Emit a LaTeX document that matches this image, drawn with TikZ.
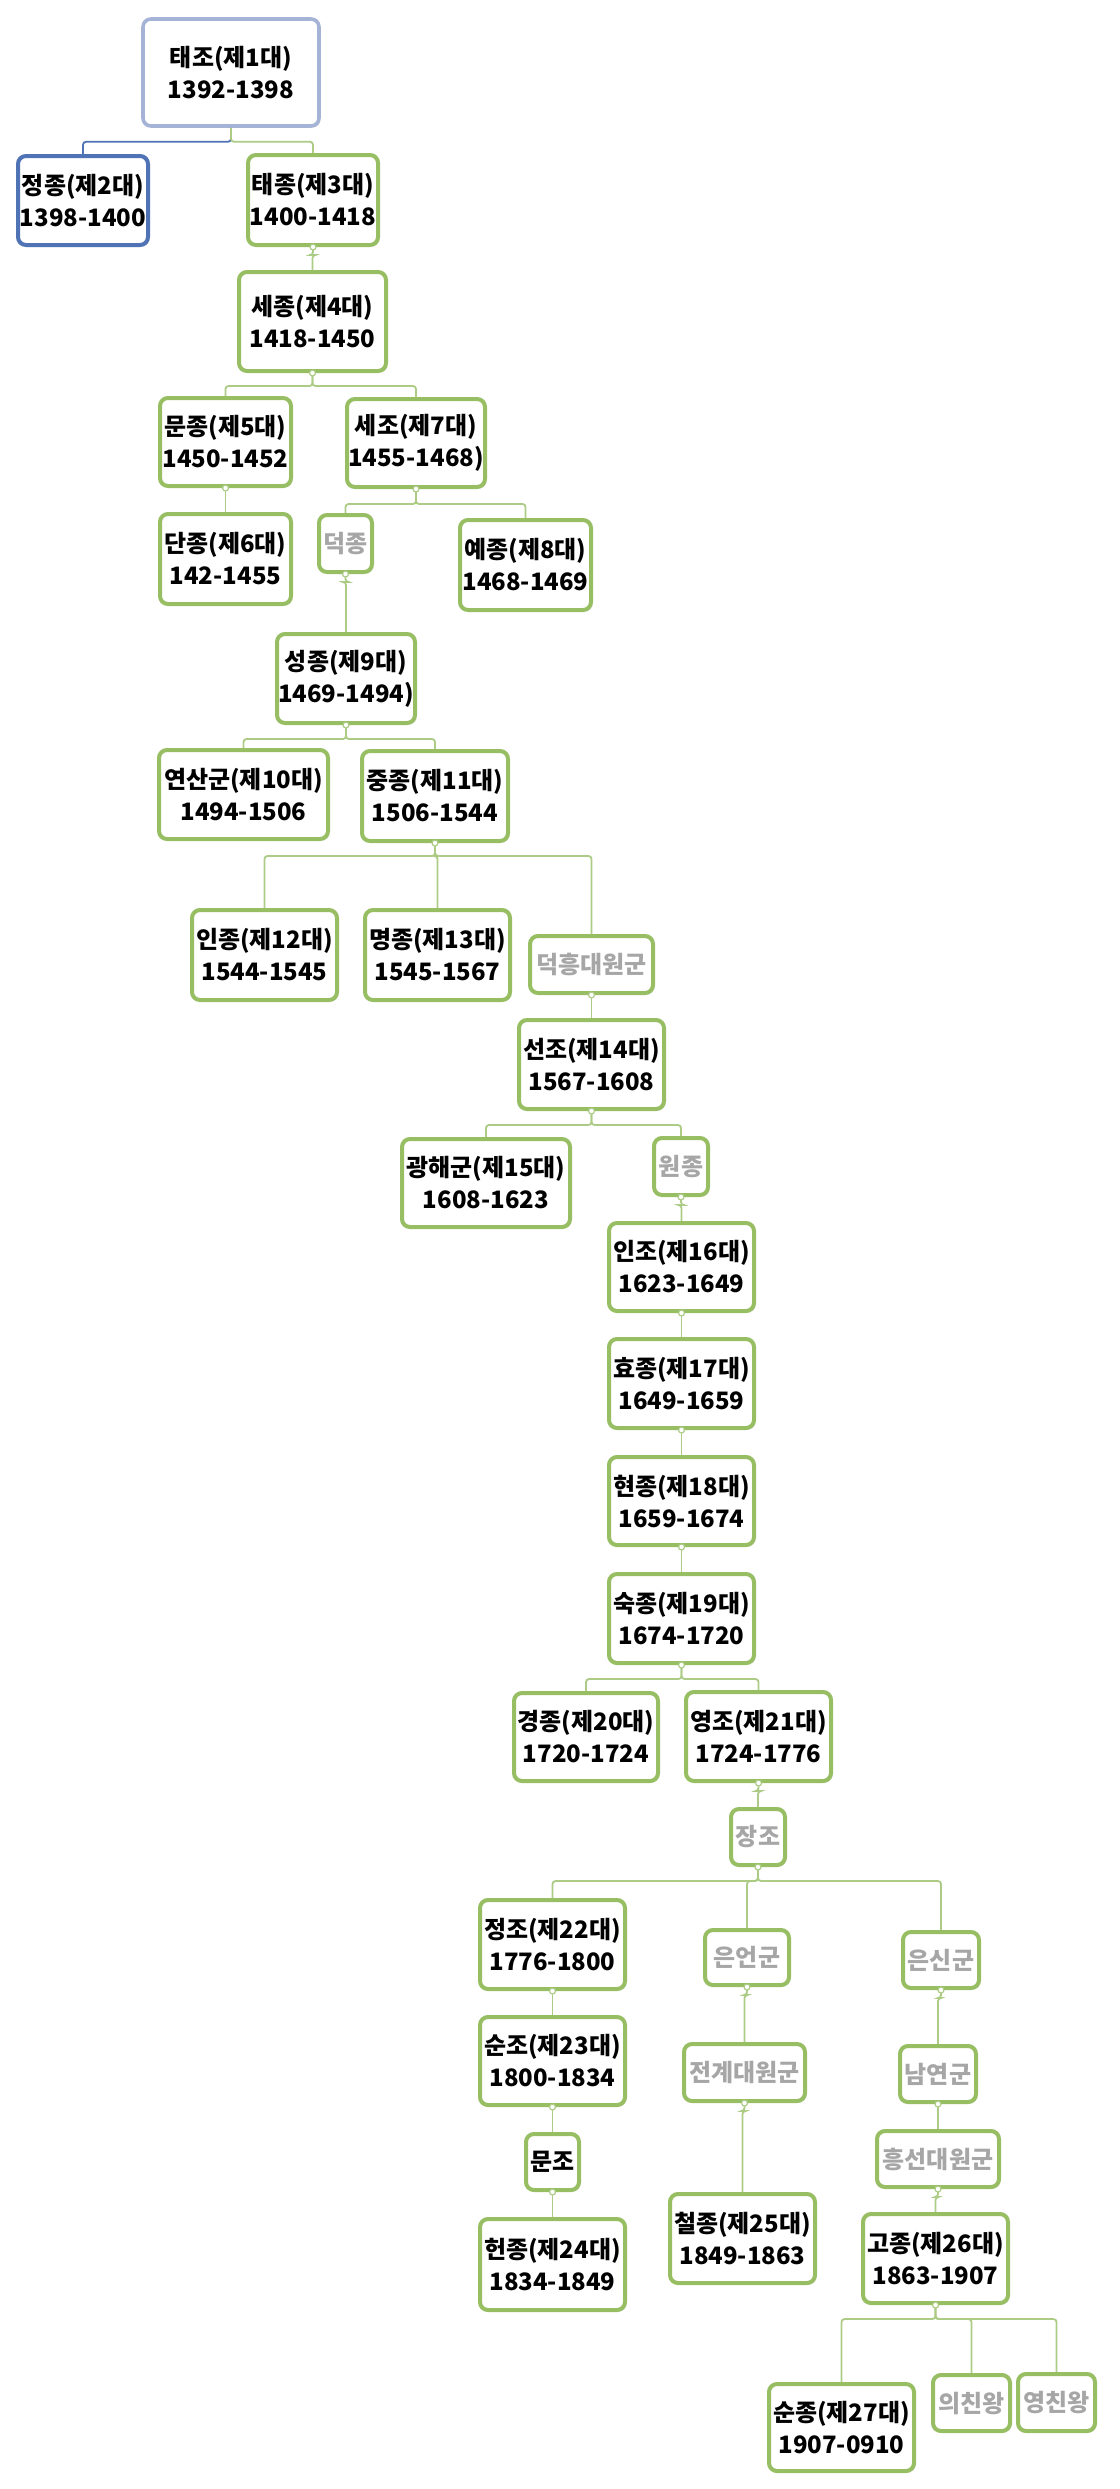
\documentclass[tikz,border=0pt]{standalone}
\usepackage{fontspec}
\newfontfamily\kr{Noto Sans CJK KR}
\usetikzlibrary{shadows}
\definecolor{gbord}{RGB}{152,190,100}
\definecolor{gline}{RGB}{172,204,134}
\definecolor{tbord}{RGB}{165,180,214}
\definecolor{bbord}{RGB}{79,115,181}
\definecolor{gtxt}{RGB}{166,166,166}
\tikzset{
 kbox/.style={draw=gbord, line width=2pt, rounded corners=4pt, fill=white, inner sep=0pt, align=center,
   font=\kr\bfseries\fontsize{12pt}{16pt}\selectfont,
   drop shadow={opacity=0.22, shadow xshift=0.8pt, shadow yshift=-0.8pt}},
 sz/.style 2 args={minimum width={(#1-4)*0.5pt}, minimum height={(#2-4)*0.5pt}},
 faded/.style={text=gtxt},
 conn/.style={draw=gline, line width=0.9pt, rounded corners=1.5pt},
 jdot/.style={circle, draw=gline, fill=white, line width=0.6pt, inner sep=0pt, minimum size=3pt},
}
\newcommand\mykid[3]{\draw[conn] (#1.south) -- ++(0,#3) -| (#2.north);}
\begin{document}
\begin{tikzpicture}[x=0.5pt,y=-0.5pt]
\useasboundingbox[fill=white] (0,0) rectangle (1119,2489);
% nodes
\node[kbox, draw=tbord, line width=1.8pt, sz={180}{111}] (tj) at (231,72.5) {태조(제1대)\\1392-1398};
\node[kbox, draw=bbord, sz={134}{93}] (jj) at (83,200.5) {정종(제2대)\\1398-1400};
\node[kbox, sz={134}{94}] (tjong) at (313,200) {태종(제3대)\\1400-1418};
\node[kbox, sz={151}{103}] (sejong) at (312.5,321.5) {세종(제4대)\\1418-1450};
\node[kbox, sz={135}{92}] (munjong) at (225.5,442) {문종(제5대)\\1450-1452};
\node[kbox, sz={142}{92}] (sejo) at (416,443) {세조(제7대)\\1455-1468)};
\node[kbox, sz={135}{94}] (danjong) at (225.5,559) {단종(제6대)\\142-1455};
\node[kbox, faded, sz={57}{61}] (deokjong) at (345.5,543.5) {덕종};
\node[kbox, sz={135}{94}] (yejong) at (525.5,565) {예종(제8대)\\1468-1469};
\node[kbox, sz={142}{93}] (seongjong) at (346,678.5) {성종(제9대)\\1469-1494)};
\node[kbox, sz={173}{93}] (yeonsan) at (243.5,794.5) {연산군(제10대)\\1494-1506};
\node[kbox, sz={150}{94}] (jungjong) at (435,796) {중종(제11대)\\1506-1544};
\node[kbox, sz={149}{94}] (injong) at (264.5,955) {인종(제12대)\\1544-1545};
\node[kbox, sz={149}{94}] (myeongjong) at (437.5,955) {명종(제13대)\\1545-1567};
\node[kbox, faded, sz={127}{61}] (deokheung) at (591.5,964.5) {덕흥대원군};
\node[kbox, sz={149}{93}] (seonjo) at (591.5,1064.5) {선조(제14대)\\1567-1608};
\node[kbox, sz={172}{92}] (gwanghae) at (486,1183) {광해군(제15대)\\1608-1623};
\node[kbox, faded, sz={58}{61}] (wonjong) at (681,1166.5) {원종};
\node[kbox, sz={149}{92}] (injo) at (681.5,1267) {인조(제16대)\\1623-1649};
\node[kbox, sz={149}{93}] (hyojong) at (681.5,1383.5) {효종(제17대)\\1649-1659};
\node[kbox, sz={149}{92}] (hyeonjong) at (681.5,1501) {현종(제18대)\\1659-1674};
\node[kbox, sz={149}{93}] (sukjong) at (681.5,1618.5) {숙종(제19대)\\1674-1720};
\node[kbox, sz={148}{92}] (gyeongjong) at (586,1737) {경종(제20대)\\1720-1724};
\node[kbox, sz={149}{93}] (yeongjo) at (758.5,1736.5) {영조(제21대)\\1724-1776};
\node[kbox, faded, sz={58}{60}] (jangjo) at (758,1837) {장조};
\node[kbox, sz={149}{93}] (jeongjo) at (552.5,1944.5) {정조(제22대)\\1776-1800};
\node[kbox, faded, sz={88}{59}] (euneon) at (747,1957.5) {은언군};
\node[kbox, faded, sz={80}{60}] (eunsin) at (941,1960) {은신군};
\node[kbox, sz={149}{92}] (sunjo) at (552.5,2061) {순조(제23대)\\1800-1834};
\node[kbox, faded, sz={125}{61}] (jeongye) at (744.5,2072.5) {전계대원군};
\node[kbox, faded, sz={80}{60}] (namyeon) at (938,2074) {남연군};
\node[kbox, sz={57}{60}] (munjo) at (552.5,2162) {문조};
\node[kbox, faded, sz={126}{60}] (heungseon) at (938,2159) {흥선대원군};
\node[kbox, sz={149}{95}] (heonjong) at (552.5,2264.5) {헌종(제24대)\\1834-1849};
\node[kbox, sz={149}{93}] (cheoljong) at (742.5,2238.5) {철종(제25대)\\1849-1863};
\node[kbox, sz={149}{93}] (gojong) at (935.5,2258.5) {고종(제26대)\\1863-1907};
\node[kbox, sz={149}{91}] (sunjong) at (841.5,2427.5) {순종(제27대)\\1907-0910};
\node[kbox, faded, sz={81}{60}] (uichin) at (971.5,2403) {의친왕};
\node[kbox, faded, sz={81}{61}] (yeongchin) at (1056.5,2402.5) {영친왕};
% connectors
\draw[conn, draw=bbord] (tj.south) -- ++(0,14) -| (jj.north);
\mykid{tj}{tjong}{14}
\mykid{tjong}{sejong}{8}
\mykid{sejong}{munjong}{13}
\mykid{sejong}{sejo}{13}
\mykid{munjong}{danjong}{8}
\mykid{sejo}{deokjong}{15}
\mykid{sejo}{yejong}{15}
\mykid{deokjong}{seongjong}{8}
\mykid{seongjong}{yeonsan}{14}
\mykid{seongjong}{jungjong}{14}
\mykid{jungjong}{injong}{13}
\mykid{jungjong}{myeongjong}{13}
\mykid{jungjong}{deokheung}{13}
\mykid{deokheung}{seonjo}{8}
\mykid{seonjo}{gwanghae}{14}
\mykid{seonjo}{wonjong}{14}
\mykid{wonjong}{injo}{8}
\mykid{injo}{hyojong}{8}
\mykid{hyojong}{hyeonjong}{8}
\mykid{hyeonjong}{sukjong}{8}
\mykid{sukjong}{gyeongjong}{14}
\mykid{sukjong}{yeongjo}{14}
\mykid{yeongjo}{jangjo}{8}
\mykid{jangjo}{jeongjo}{14}
\mykid{jangjo}{euneon}{14}
\mykid{jangjo}{eunsin}{14}
\mykid{jeongjo}{sunjo}{8}
\mykid{sunjo}{munjo}{8}
\mykid{munjo}{heonjong}{8}
\mykid{euneon}{jeongye}{8}
\mykid{jeongye}{cheoljong}{8}
\mykid{eunsin}{namyeon}{8}
\mykid{namyeon}{heungseon}{8}
\mykid{heungseon}{gojong}{8}
\mykid{gojong}{sunjong}{14}
\mykid{gojong}{uichin}{14}
\mykid{gojong}{yeongchin}{14}
% junction dots
\foreach \p in {tjong,sejong,munjong,sejo,deokjong,seongjong,jungjong,deokheung,seonjo,wonjong,injo,hyojong,hyeonjong,sukjong,yeongjo,jangjo,jeongjo,sunjo,munjo,euneon,jeongye,eunsin,namyeon,heungseon,gojong}
  \node[jdot] at (\p.south) {};
\end{tikzpicture}
\end{document}
